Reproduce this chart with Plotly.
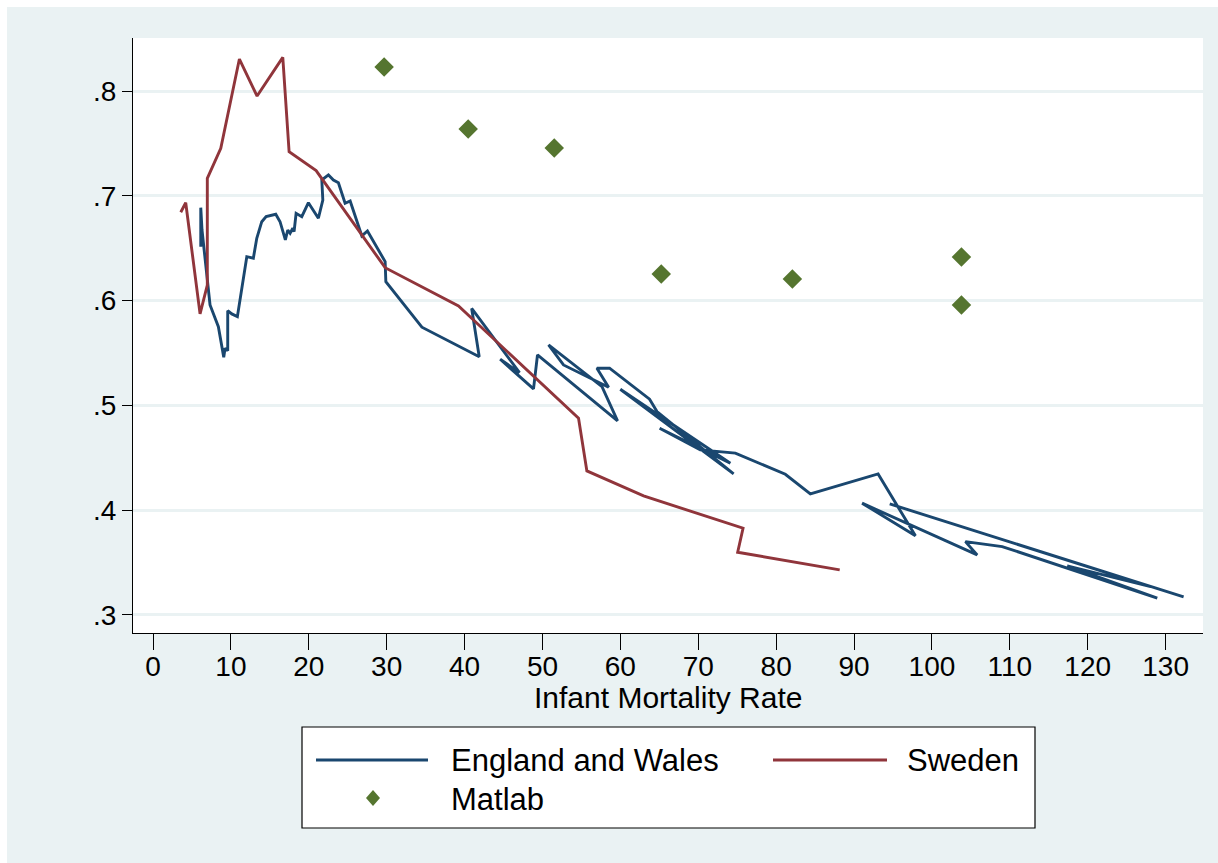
import plotly.graph_objects as go

# ---------------- data ----------------
ew_imr = [6.13, 6.13, 6.29, 7.32, 8.39, 9.08, 9.25, 9.59, 9.59, 10.11, 10.83, 11.39, 12.04, 12.88,
          13.32, 13.96, 14.52, 15.76, 16.31, 16.99, 17.30, 17.60, 17.94, 18.11, 18.37, 19.10, 19.95,
          21.23, 21.80, 21.67, 22.52, 23.16, 23.80, 24.66, 25.31, 26.81, 27.53, 29.80, 29.89, 34.52,
          41.88, 40.91, 47.05, 44.57, 48.85, 49.36, 59.64, 57.64, 50.78, 52.70, 58.49, 56.99, 58.61,
          63.75, 64.70, 74.54, 59.99, 74.12, 65.04, 70.26, 74.76, 81.18, 84.39, 93.09, 97.88, 91.03,
          105.81, 104.30, 109.02, 128.93, 117.37, 128.07, 94.58, 132.31]
ew_val = [0.6514, 0.6887, 0.6674, 0.5958, 0.5751, 0.5459, 0.5545, 0.5522, 0.5904, 0.5873, 0.5847,
          0.6133, 0.6419, 0.6404, 0.6595, 0.6753, 0.6801, 0.6824, 0.6753, 0.6579, 0.6674, 0.6642,
          0.6690, 0.6658, 0.6833, 0.6801, 0.6934, 0.6786, 0.6960, 0.7151, 0.7199, 0.7151, 0.7125,
          0.6929, 0.6951, 0.6617, 0.6664, 0.6372, 0.6181, 0.5746, 0.5465, 0.5925, 0.5313, 0.5440,
          0.5157, 0.5481, 0.4852, 0.5179, 0.5577, 0.5386, 0.5173, 0.5355, 0.5355, 0.5059, 0.4941,
          0.4346, 0.5154, 0.4448, 0.4782, 0.4575, 0.4544, 0.4343, 0.4155, 0.4346, 0.3755, 0.4067,
          0.3573, 0.3700, 0.3653, 0.3160, 0.3468, 0.3271, 0.4060, 0.3173]

se_imr = [3.56, 4.20, 6.04, 6.97, 6.97, 8.70, 11.09, 13.36, 16.66, 17.47, 20.94, 29.80, 39.22,
          54.63, 55.70, 62.98, 75.75, 75.06, 88.16]
se_val = [0.6843, 0.6934, 0.5873, 0.6149, 0.7167, 0.7453, 0.8305, 0.7952, 0.8321, 0.7421, 0.7240,
          0.6314, 0.5949, 0.4877, 0.4375, 0.4136, 0.3828, 0.3599, 0.3430]

ml_imr = [29.67, 40.46, 51.51, 65.25, 82.08, 103.79, 103.79]
ml_val = [0.8229, 0.7637, 0.7456, 0.6254, 0.6207, 0.6416, 0.5958]

x_ticks = [0, 10, 20, 30, 40, 50, 60, 70, 80, 90, 100, 110, 120, 130]
y_ticks = [0.3, 0.4, 0.5, 0.6, 0.7, 0.8]
y_ticktext = [".3", ".4", ".5", ".6", ".7", ".8"]

series_names = ["England and Wales", "Sweden", "Matlab"]
x_title = "Infant Mortality Rate"

# ---------------- style ----------------
C_EW = "#1a476f"
C_SE = "#90353b"
C_ML = "#55752f"
BG = "#eaf2f3"
FONT = "Liberation Sans, Arial, sans-serif"
LW = 2.9

W, H = 1218, 863
ML, MR, MT, MB = 133, 15, 38, 230
PW, PH = W - ML - MR, H - MT - MB


def px(xp):
    return (xp - ML) / PW


def py(yp):
    return (H - MB - yp) / PH


fig = go.Figure()
fig.add_trace(go.Scatter(x=ew_imr, y=ew_val, mode="lines", name=series_names[0],
                         line=dict(color=C_EW, width=LW), showlegend=False))
fig.add_trace(go.Scatter(x=se_imr, y=se_val, mode="lines", name=series_names[1],
                         line=dict(color=C_SE, width=LW), showlegend=False))
fig.add_trace(go.Scatter(x=ml_imr, y=ml_val, mode="markers", name=series_names[2],
                         marker=dict(color=C_ML, symbol="diamond", size=15), showlegend=False))

shapes = [
    # graph region background
    dict(type="rect", xref="paper", yref="paper", x0=px(7), x1=px(W + 10), y0=py(H + 10), y1=py(7),
         fillcolor=BG, line=dict(width=0), layer="below"),
    # plot region
    dict(type="rect", xref="paper", yref="paper", x0=0, x1=1, y0=0, y1=1,
         fillcolor="white", line=dict(width=0), layer="below"),
    # legend box
    dict(type="rect", xref="paper", yref="paper", x0=px(302), x1=px(1035), y0=py(828), y1=py(727),
         fillcolor="white", line=dict(color="black", width=1.2), layer="below"),
    dict(type="line", xref="paper", yref="paper", x0=px(316), x1=px(428), y0=py(760), y1=py(760),
         line=dict(color=C_EW, width=LW)),
    dict(type="line", xref="paper", yref="paper", x0=px(773), x1=px(887), y0=py(760), y1=py(760),
         line=dict(color=C_SE, width=LW)),
    dict(type="path", xref="paper", yref="paper",
         path="M {a},{b} L {c},{d} L {a},{e} L {f},{d} Z".format(
             a=px(373), b=py(790), c=px(380), d=py(798), e=py(806), f=px(366)),
         fillcolor=C_ML, line=dict(width=0)),
]

annotations = [
    dict(text=series_names[0], xref="paper", yref="paper", x=px(449), y=py(760), xanchor="left",
         yanchor="middle", showarrow=False, font=dict(family=FONT, size=31, color="black")),
    dict(text=series_names[1], xref="paper", yref="paper", x=px(905), y=py(760), xanchor="left",
         yanchor="middle", showarrow=False, font=dict(family=FONT, size=31, color="black")),
    dict(text=series_names[2], xref="paper", yref="paper", x=px(449), y=py(800), xanchor="left",
         yanchor="middle", showarrow=False, font=dict(family=FONT, size=31, color="black")),
    dict(text=x_title, xref="paper", yref="paper", x=0.5, y=py(697), xanchor="center",
         yanchor="middle", showarrow=False, font=dict(family=FONT, size=30, color="black")),
]

fig.update_layout(
    width=W, height=H,
    margin=dict(l=ML, r=MR, t=MT, b=MB),
    paper_bgcolor="white",
    plot_bgcolor="rgba(0,0,0,0)",
    font=dict(family=FONT, size=28, color="black"),
    shapes=shapes,
    annotations=annotations,
    showlegend=False,
    xaxis=dict(
        range=[-2.57, 134.8], tickvals=x_ticks, ticks="outside", ticklen=16, tickwidth=1.3,
        tickcolor="black", showline=True, linecolor="black", linewidth=1.3, showgrid=False,
        zeroline=False, tickfont=dict(size=28), ticklabelstandoff=-8,
    ),
    yaxis=dict(
        range=[0.2828, 0.8506], tickvals=y_ticks, ticktext=y_ticktext, ticks="outside", ticklen=10,
        tickwidth=1.3, tickcolor="black", showline=True, linecolor="black", linewidth=1.3,
        showgrid=True, gridcolor=BG, gridwidth=2.5, zeroline=False, tickfont=dict(size=28),
    ),
)

fig.write_html("out.html", config={"displayModeBar": False},
               post_script="document.body.style.margin='0';document.body.style.padding='0';")
